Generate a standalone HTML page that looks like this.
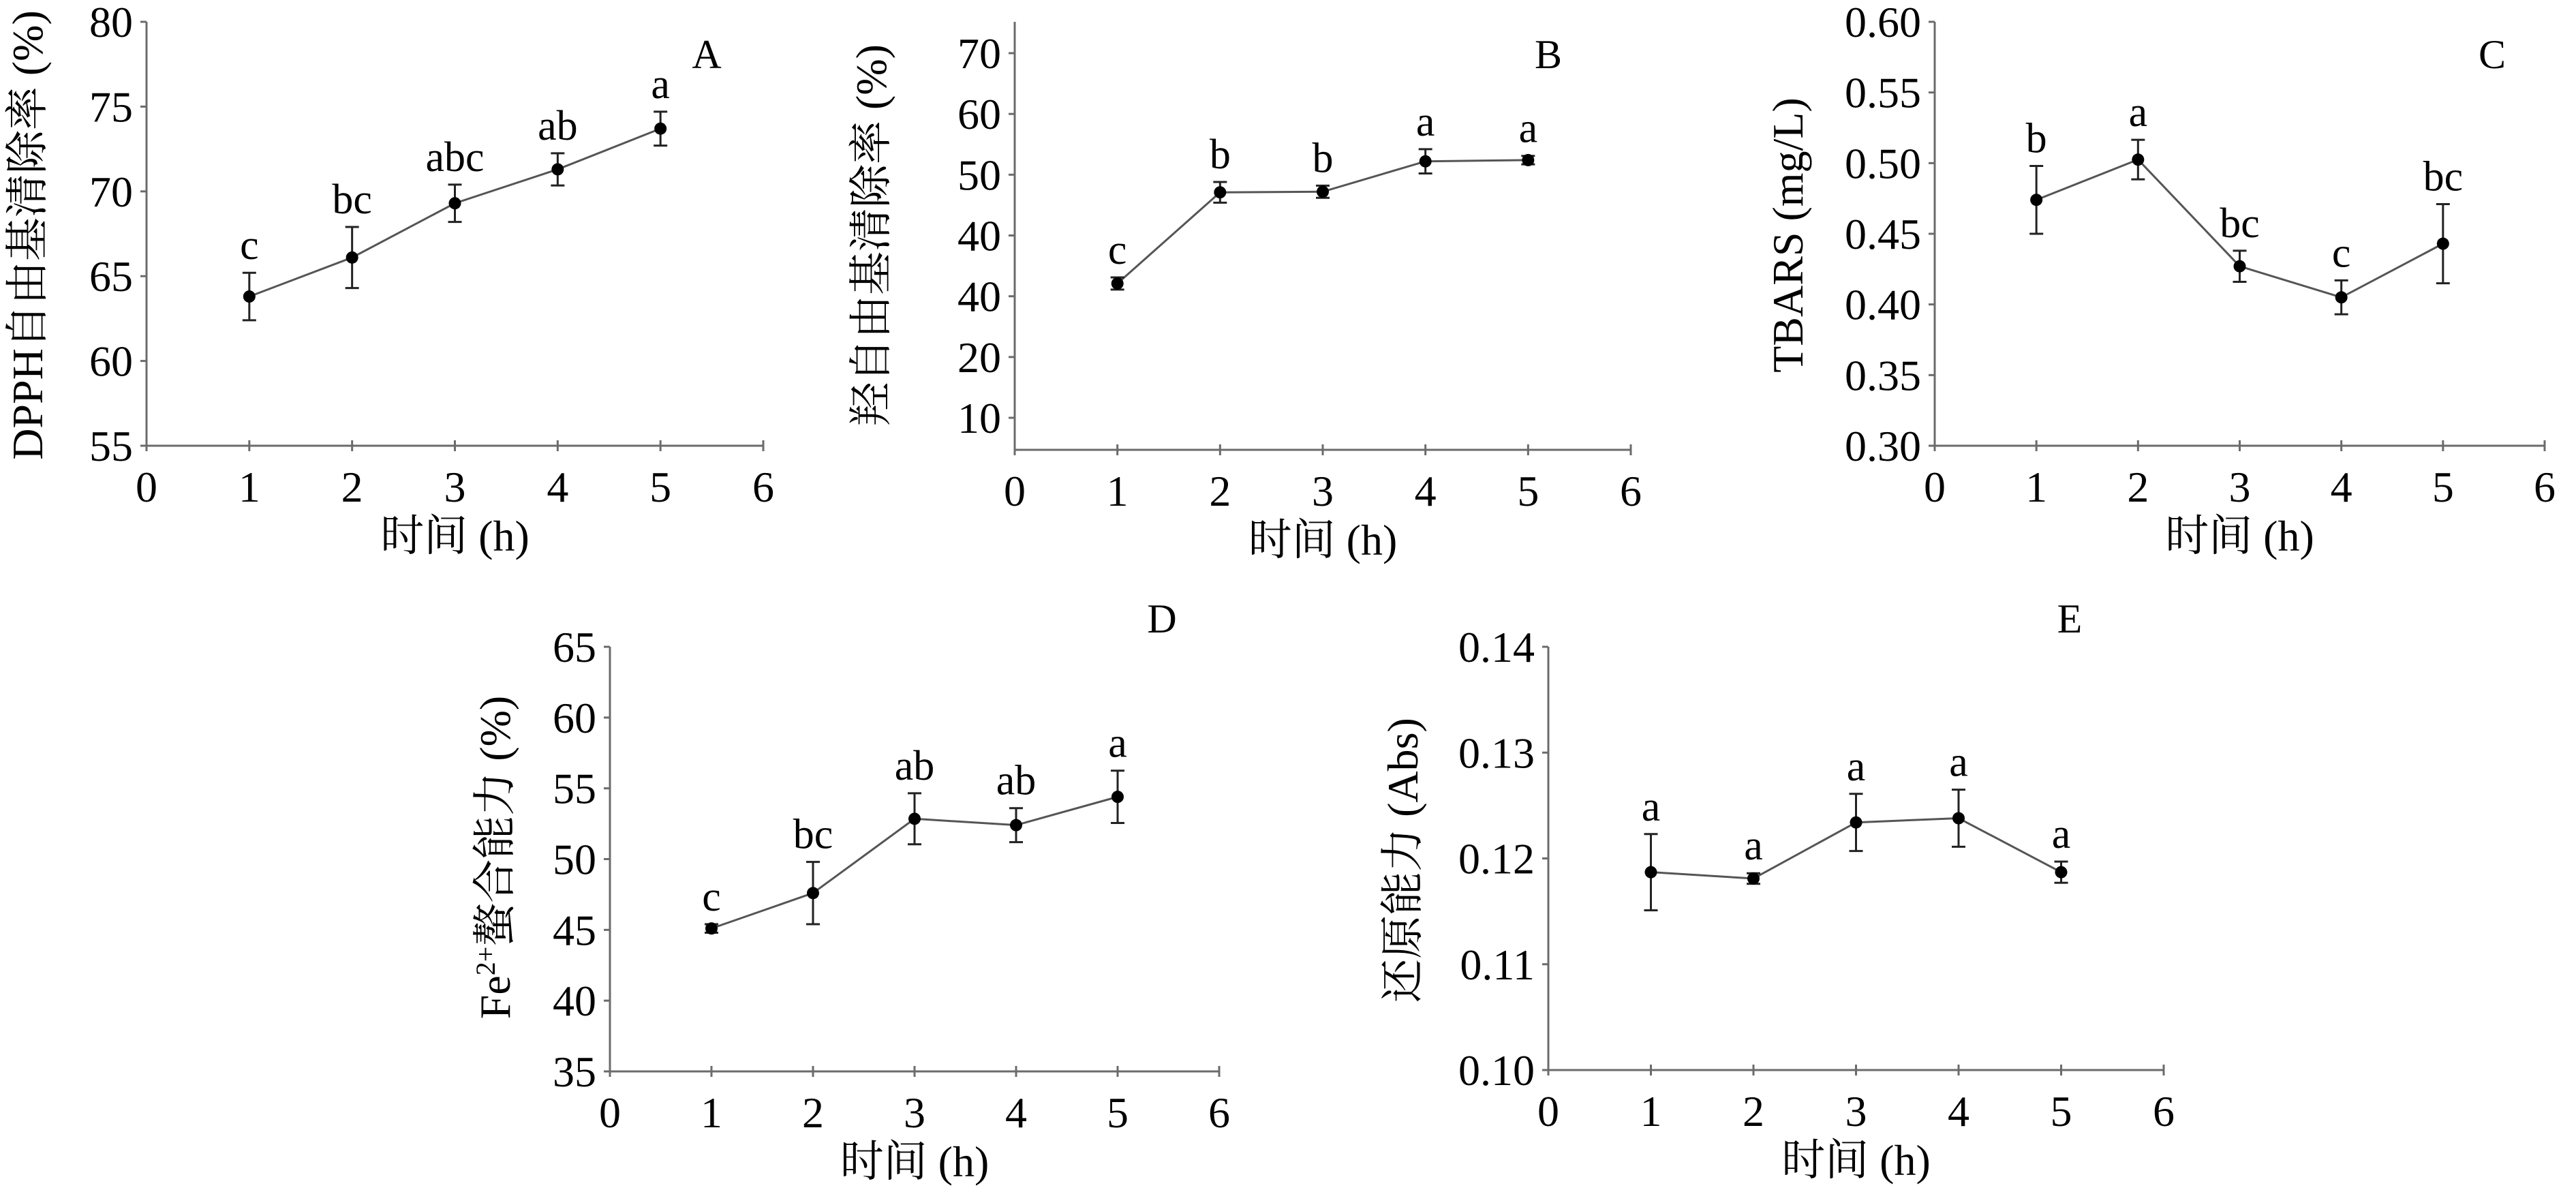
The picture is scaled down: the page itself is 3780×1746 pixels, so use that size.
<!DOCTYPE html>
<html><head><meta charset="utf-8">
<style>
html,body{margin:0;padding:0;background:#fff;}
svg{display:block;font-family:"Liberation Serif","Noto Serif CJK SC","Noto Sans CJK SC",serif;}
</style></head>
<body>
<svg id="fig" width="3780" height="1746" viewBox="0 0 3780 1746" xmlns="http://www.w3.org/2000/svg"></svg>
<script>
const xCategories = [1,2,3,4,5];
const xTickLabels = ["0","1","2","3","4","5","6"];

const valuesA = [63.8, 66.1, 69.3, 71.3, 73.7];
const errorsA = [1.4, 1.8, 1.1, 0.95, 1.0];
const lettersA = ["c","bc","abc","ab","a"];
const yTicksA = [55,60,65,70,75,80];
const yTickLabelsA = ["55","60","65","70","75","80"];

const valuesB = [32.1, 47.1, 47.2, 52.2, 52.4];
const errorsB = [1.0, 1.7, 1.0, 2.0, 0.7];
const lettersB = ["c","b","b","a","a"];
const yTicksB = [10,20,30,40,50,60,70];
const yTickLabelsB = ["10","20","40","40","50","60","70"];

const valuesC = [0.474, 0.5025, 0.427, 0.405, 0.443];
const errorsC = [0.024, 0.014, 0.011, 0.012, 0.028];
const lettersC = ["b","a","bc","c","bc"];
const yTicksC = [0.30,0.35,0.40,0.45,0.50,0.55,0.60];
const yTickLabelsC = ["0.30","0.35","0.40","0.45","0.50","0.55","0.60"];

const valuesD = [45.1, 47.6, 52.85, 52.4, 54.4];
const errorsD = [0.3, 2.2, 1.8, 1.2, 1.85];
const lettersD = ["c","bc","ab","ab","a"];
const yTicksD = [35,40,45,50,55,60,65];
const yTickLabelsD = ["35","40","45","50","55","60","65"];

const valuesE = [0.1187, 0.1181, 0.1234, 0.1238, 0.1187];
const errorsE = [0.0036, 0.0005, 0.0027, 0.0027, 0.001];
const lettersE = ["a","a","a","a","a"];
const yTicksE = [0.10,0.11,0.12,0.13,0.14];
const yTickLabelsE = ["0.10","0.11","0.12","0.13","0.14"];

const NS = "http://www.w3.org/2000/svg";
const svg = document.getElementById("fig");
function mk(tag, attrs, parent){
  const e = document.createElementNS(NS, tag);
  for (const k in attrs) e.setAttribute(k, attrs[k]);
  (parent||svg).appendChild(e);
  return e;
}

function panel(cfg){
  const g = mk("g", {});
  
  
  const xs = v => cfg.x0 + (cfg.x6 - cfg.x0) * v / 6;
  const ys = v => cfg.yBot - (cfg.yBot - cfg.yTop) * (v - cfg.vMin) / (cfg.vMax - cfg.vMin);
  const axisCol = "#6b6b6b";
  const ya = mk("line", {x1:cfg.x0, y1:cfg.axisTop, x2:cfg.x0, y2:cfg.axisBot, stroke:axisCol, "stroke-width":3}, g);
  
  
  const xa = mk("line", {x1:cfg.x0, y1:cfg.axisBot, x2:cfg.x6, y2:cfg.axisBot, stroke:axisCol, "stroke-width":3}, g);
  
  
  cfg.yTicks.forEach((v,i)=>{
    const y = ys(v);
    const t = mk("line", {x1:cfg.x0-9, y1:y, x2:cfg.x0, y2:y, stroke:axisCol, "stroke-width":3}, g);
    
    
    const tl = mk("text", {x:cfg.x0-20, y:y+22, "text-anchor":"end", "font-size":64, fill:"#000"}, g);
    tl.textContent = cfg.yLabels[i];
    
    
  });
  xTickLabels.forEach((s,i)=>{
    const x = xs(i);
    const t = mk("line", {x1:x, y1:cfg.axisBot-8, x2:x, y2:cfg.axisBot+8, stroke:axisCol, "stroke-width":3}, g);
    
    
    const tl = mk("text", {x:x, y:cfg.axisBot+82, "text-anchor":"middle", "font-size":64, fill:"#000"}, g);
    tl.textContent = s;
    
    
  });
  const xt = mk("text", {x:(cfg.x0+cfg.x6)/2, y:cfg.axisBot+154, "text-anchor":"middle", "font-size":64, fill:"#000"}, g);
  xt.textContent = "时间 (h)";
  
  
  const yt = mk("text", {x:0, y:0, "text-anchor":"middle", "font-size":64, fill:"#000",
    transform:"translate(" + cfg.ylx + "," + cfg.yly + ") rotate(-90)"}, g);
  yt.innerHTML = cfg.yTitle;
  
  
  const pl = mk("text", {x:cfg.lx, y:cfg.ly, "text-anchor":"middle", "font-size":60, fill:"#000"}, g);
  pl.textContent = cfg.id;
  
  
  const pts = xCategories.map((c,i)=> xs(c) + "," + ys(cfg.vals[i])).join(" ");
  const ln = mk("polyline", {points:pts, fill:"none", stroke:"#555", "stroke-width":3}, g);
  
  
  xCategories.forEach((c,i)=>{
    const x = xs(c), v = cfg.vals[i], e = cfg.errs[i];
    const yt2 = ys(v+e), yb = ys(v-e);
    const eb = mk("path", {d:"M"+x+","+yt2+"V"+yb+"M"+(x-10)+","+yt2+"H"+(x+10)+"M"+(x-10)+","+yb+"H"+(x+10),
      stroke:"#222", "stroke-width":3, fill:"none"}, g);
    
    
    const p = mk("circle", {cx:x, cy:ys(v), r:9, fill:"#000"}, g);
    
    
    const lt = mk("text", {x:x, y:yt2-20, "text-anchor":"middle", "font-size":62, fill:"#000"}, g);
    lt.textContent = cfg.letters[i];
    
    
  });
}

panel({id:"A", x0:215, x6:1120, yTop:32, yBot:654, axisTop:32, axisBot:654, vMin:55, vMax:80,
  yTicks:yTicksA, yLabels:yTickLabelsA, vals:valuesA, errs:errorsA, letters:lettersA,
  yTitle:"DPPH自由基清除率 (%)", ylx:62, yly:345, lx:1037, ly:100});
panel({id:"B", x0:1489, x6:2393, yTop:78, yBot:613, axisTop:32, axisBot:660, vMin:10, vMax:70,
  yTicks:yTicksB, yLabels:yTickLabelsB, vals:valuesB, errs:errorsB, letters:lettersB,
  yTitle:"羟自由基清除率 (%)", ylx:1300, yly:345, lx:2272, ly:100});
panel({id:"C", x0:2839, x6:3734, yTop:32, yBot:654, axisTop:32, axisBot:654, vMin:0.30, vMax:0.60,
  yTicks:yTicksC, yLabels:yTickLabelsC, vals:valuesC, errs:errorsC, letters:lettersC,
  yTitle:"TBARS (mg/L)", ylx:2645, yly:345, lx:3657, ly:100});
panel({id:"D", x0:895, x6:1789, yTop:949, yBot:1572, axisTop:949, axisBot:1572, vMin:35, vMax:65,
  yTicks:yTicksD, yLabels:yTickLabelsD, vals:valuesD, errs:errorsD, letters:lettersD,
  yTitle:"Fe<tspan baseline-shift=\"super\" font-size=\"40\">2+</tspan>螯合能力 (%)", ylx:748, yly:1258, lx:1705, ly:928});
panel({id:"E", x0:2272, x6:3175, yTop:949, yBot:1570, axisTop:949, axisBot:1570, vMin:0.10, vMax:0.14,
  yTicks:yTicksE, yLabels:yTickLabelsE, vals:valuesE, errs:errorsE, letters:lettersE,
  yTitle:"还原能力 (Abs)", ylx:2080, yly:1262, lx:3037, ly:928});
</script>
</body></html>
